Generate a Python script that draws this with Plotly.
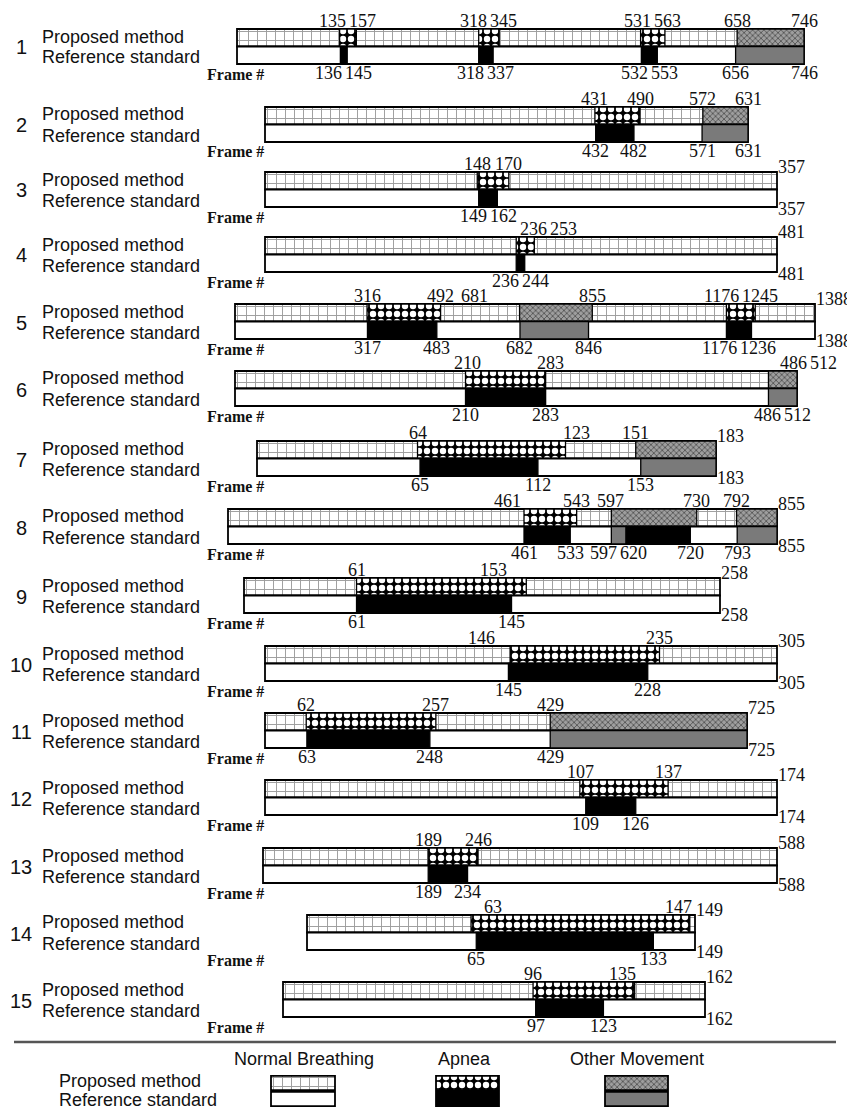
import plotly.graph_objects as go

W, H = 855, 1113          # target picture size
OFF = 8                   # default page margin around the plot div
FW, FH = W - OFF, H - OFF # figure size so that picture pixels map 1:1

# ---------------- data ----------------
ROW_IDS = list(range(1, 16))
TOTAL_FRAMES = [746, 631, 357, 481, 1388, 512, 183, 855, 258, 305, 725, 174, 588, 149, 162]

PROPOSED_APNEA = [
    [(135, 157), (318, 345), (531, 563)],
    [(431, 490)],
    [(148, 170)],
    [(236, 253)],
    [(316, 492), (1176, 1245)],
    [(210, 283)],
    [(64, 123)],
    [(461, 543)],
    [(61, 153)],
    [(146, 235)],
    [(62, 257)],
    [(107, 137)],
    [(189, 246)],
    [(63, 147)],
    [(96, 135)],
]
PROPOSED_OTHER = [
    [(658, 746)], [(572, 631)], [], [], [(681, 855)], [(486, 512)], [(151, 183)],
    [(597, 730), (792, 855)], [], [], [(429, 725)], [], [], [], [],
]
REFERENCE_APNEA = [
    [(136, 145), (318, 337), (532, 553)],
    [(432, 482)],
    [(149, 162)],
    [(236, 244)],
    [(317, 483), (1176, 1236)],
    [(210, 283)],
    [(65, 112)],
    [(461, 533), (620, 720)],
    [(61, 145)],
    [(145, 228)],
    [(63, 248)],
    [(109, 126)],
    [(189, 234)],
    [(65, 133)],
    [(97, 123)],
]
REFERENCE_OTHER = [
    [(656, 746)], [(571, 631)], [], [], [(682, 846)], [(486, 512)], [(153, 183)],
    [(597, 620), (793, 855)], [], [], [(429, 725)], [], [], [], [],
]

BAND_NAMES = ["Proposed method", "Reference standard"]
CLASS_NAMES = ["Normal Breathing", "Apnea", "Other Movement"]

# ---------------- layout (pixel geometry of each row's bar) ----------------
BAR_LEFT = [237, 265, 265, 265, 235, 235, 257, 228, 244, 265, 265, 265, 263, 307, 283]
BAR_RIGHT = [804, 748, 777, 777, 815, 797, 716, 777, 720, 777, 747, 777, 777, 695, 705]
BAR_TOP = [29, 107, 172, 237, 304, 371, 441, 509, 578, 646, 713, 780, 848, 915, 982]
BAR_H = 35
TOTAL_LABEL_CENTERED = {0, 1, 5}   # rows whose end frame label sits above/below the edge
TOP_LABEL_YSHIFT = -4
BOTTOM_LABEL_YSHIFT = 3

SERIF = "Liberation Serif, Times New Roman, serif"
SANS = "Liberation Sans, Arial, sans-serif"
NUM_FONT = dict(family=SERIF, size=18, color="#111")
TXT_FONT = dict(family=SANS, size=18, color="#111")
DIGIT_W = 9.0

STYLE = {
    ("P", "normal"): dict(color="white", pattern=dict(shape="+", fgcolor="#9c9c9c", bgcolor="white", size=9,
                                                       solidity=0.2, fillmode="replace", fgopacity=1)),
    ("P", "apnea"): dict(color="black", pattern=dict(shape=".", fgcolor="white", bgcolor="black", size=8,
                                                      solidity=0.5, fillmode="replace", fgopacity=1)),
    ("P", "other"): dict(color="#9a9a9a", pattern=dict(shape="x", fgcolor="#555555", bgcolor="#9e9e9e", size=4,
                                                        solidity=0.4, fillmode="replace", fgopacity=1)),
    ("R", "normal"): dict(color="white"),
    ("R", "apnea"): dict(color="black"),
    ("R", "other"): dict(color="#7a7a7a"),
}


def px2x(px):
    return (px - OFF) / FW


def px2y(py):
    return 1 - (py - OFF) / FH


fig = go.Figure()
annotations = []
layout_axes = {}


def sfx(k):
    return "" if k == 1 else str(k)


def add_axis(k, left, right, top, bottom, xmax):
    pad = 2
    u = xmax / (right - left)
    v = 2.0 / (bottom - top)
    layout_axes["xaxis" + sfx(k)] = dict(
        domain=[px2x(left - pad), px2x(right + pad)], range=[-pad * u, xmax + pad * u],
        visible=False, anchor="y" + sfx(k), fixedrange=True)
    layout_axes["yaxis" + sfx(k)] = dict(
        domain=[px2y(bottom + pad), px2y(top - pad)], range=[-0.5 - pad * v, 1.5 + pad * v],
        visible=False, anchor="x" + sfx(k), fixedrange=True)


def add_bars(k, band_y, segs, style, width=1.0, lw=1.3):
    if not segs:
        return
    marker = dict(color=style["color"], line=dict(color="black", width=lw))
    if "pattern" in style:
        marker["pattern"] = style["pattern"]
    fig.add_trace(go.Bar(
        orientation="h", y=[band_y] * len(segs), base=[s for s, e in segs],
        x=[e - s for s, e in segs], width=width, marker=marker,
        xaxis="x" + sfx(k), yaxis="y" + sfx(k), hoverinfo="skip", showlegend=False))


def spread(items, gap=3.0):
    for _ in range(300):
        items.sort(key=lambda d: d["c"])
        moved = False
        for a, b in zip(items, items[1:]):
            need = (a["w"] + b["w"]) / 2 + gap - (b["c"] - a["c"])
            if need > 0.01:
                if a["fixed"] and b["fixed"]:
                    continue
                moved = True
                if a["fixed"]:
                    b["c"] += need
                elif b["fixed"]:
                    a["c"] -= need
                else:
                    a["c"] -= need / 2
                    b["c"] += need / 2
        if not moved:
            break


def collide(c, w, others, gap=3.0):
    return any(abs(c - o["c"]) < (w + o["w"]) / 2 + gap for o in others)


def place_greedy(movables, obstacles):
    placed = list(obstacles)
    for m in sorted(movables, key=lambda d: d["c"]):
        if m["fixed"]:
            placed.append(m)
            continue
        base = m["c"]
        for d in range(0, 400):
            hit = False
            for s in ((d,) if d == 0 else (d, -d)):
                if not collide(base + s, m["w"], placed):
                    m["c"] = base + s
                    hit = True
                    break
            if hit:
                break
        placed.append(m)


top_items = [[] for _ in ROW_IDS]
bot_items = [[] for _ in ROW_IDS]

for i, rid in enumerate(ROW_IDS):
    k = i + 1
    left, right, top = BAR_LEFT[i], BAR_RIGHT[i], BAR_TOP[i]
    bottom = top + BAR_H
    total = TOTAL_FRAMES[i]
    add_axis(k, left, right, top, bottom, total)

    bands = [("P", 1, PROPOSED_APNEA[i], PROPOSED_OTHER[i]),
             ("R", 0, REFERENCE_APNEA[i], REFERENCE_OTHER[i])]
    for code, yb, apnea, other in bands:
        add_bars(k, yb, [(0, total)], STYLE[(code, "normal")], lw=1.8)
        add_bars(k, yb, other, STYLE[(code, "other")])
        add_bars(k, yb, apnea, STYLE[(code, "apnea")])

        grp = top_items[i] if yb == 1 else bot_items[i]
        vals = sorted({v for seg in apnea + other for v in seg if 0 < v < total})
        if i in TOTAL_LABEL_CENTERED:
            vals.append(total)
        for v in vals:
            c = left + v / total * (right - left)
            grp.append(dict(k=k, yb=yb, v=v, c0=c, c=c, w=DIGIT_W * len(str(v)), fixed=False, end=False))
        if i not in TOTAL_LABEL_CENTERED:
            tw = DIGIT_W * len(str(total))
            grp.append(dict(k=k, yb=yb, v=total, c0=None, c=right + tw / 2, w=tw, fixed=True, end=True))
        spread(grp)

    # row captions
    mid = top + BAR_H / 2
    annotations.append(dict(xref="paper", yref="paper", x=px2x(21), y=px2y(mid + 1),
                            text=str(rid), showarrow=False, xanchor="center", yanchor="middle",
                            font=dict(TXT_FONT, size=20)))
    annotations.append(dict(xref="paper", yref="paper", x=px2x(40), y=px2y(mid - 10),
                            text=BAND_NAMES[0], showarrow=False, xanchor="left", yanchor="middle",
                            font=TXT_FONT))
    annotations.append(dict(xref="paper", yref="paper", x=px2x(40), y=px2y(mid + 11),
                            text=BAND_NAMES[1], showarrow=False, xanchor="left", yanchor="middle",
                            font=TXT_FONT))
    annotations.append(dict(xref="paper", yref="paper", x=px2x(205), y=px2y(bottom + 10),
                            text="<b>Frame #</b>", showarrow=False, xanchor="left", yanchor="middle",
                            font=dict(NUM_FONT, size=16)))

# cross-row check: bottom labels of one row vs top labels of the next row
for i in range(len(ROW_IDS) - 1):
    gap_px = (BAR_TOP[i + 1] - 9) - (BAR_TOP[i] + BAR_H + 8)
    if gap_px < 20:
        obstacles = [it for it in bot_items[i] if not it["end"]]
        place_greedy(top_items[i + 1], obstacles)

for grp in top_items + bot_items:
    for it in grp:
        xa, ya = "x" + sfx(it["k"]), "y" + sfx(it["k"])
        if it["end"]:
            annotations.append(dict(
                xref=xa, yref=ya, x=TOTAL_FRAMES[it["k"] - 1], y=1.5 if it["yb"] == 1 else -0.5,
                xanchor="left", xshift=-1, yanchor="middle", yshift=5 if it["yb"] == 1 else -2,
                text=str(it["v"]), showarrow=False, font=NUM_FONT))
        else:
            annotations.append(dict(
                xref=xa, yref=ya, x=it["v"], y=1.5 if it["yb"] == 1 else -0.5,
                xshift=it["c"] - it["c0"], yanchor="bottom" if it["yb"] == 1 else "top",
                yshift=TOP_LABEL_YSHIFT if it["yb"] == 1 else BOTTOM_LABEL_YSHIFT,
                text=str(it["v"]), showarrow=False, font=NUM_FONT))

# ---------------- legend ----------------
LEG_LEFT = [271, 436, 605]
LEG_RIGHT = [335, 499, 668]
LEG_TOP, LEG_BOTTOM = 1075, 1107
LEG_HEAD_X = [304, 465, 637]
keys = ["normal", "apnea", "other"]
for j in range(3):
    k = 16 + j
    add_axis(k, LEG_LEFT[j], LEG_RIGHT[j], LEG_TOP, LEG_BOTTOM, 1.0)
    add_bars(k, 1, [(0, 1)], STYLE[("P", keys[j])], width=0.88, lw=1.8)
    add_bars(k, 0, [(0, 1)], STYLE[("R", keys[j])], width=0.88, lw=1.8)
    annotations.append(dict(xref="paper", yref="paper", x=px2x(LEG_HEAD_X[j]), y=px2y(1059),
                            text=CLASS_NAMES[j], showarrow=False, xanchor="center", yanchor="middle",
                            font=TXT_FONT))
annotations.append(dict(xref="paper", yref="paper", x=px2x(57), y=px2y(1081),
                        text=BAND_NAMES[0], showarrow=False, xanchor="left", yanchor="middle", font=TXT_FONT))
annotations.append(dict(xref="paper", yref="paper", x=px2x(57), y=px2y(1100),
                        text=BAND_NAMES[1], showarrow=False, xanchor="left", yanchor="middle", font=TXT_FONT))

shapes = [dict(type="line", xref="paper", yref="paper", x0=px2x(14), x1=px2x(836),
               y0=px2y(1042), y1=px2y(1042), line=dict(color="#555", width=2.5))]

fig.update_layout(
    width=FW, height=FH, margin=dict(l=0, r=0, t=0, b=0),
    paper_bgcolor="white", plot_bgcolor="rgba(0,0,0,0)",
    barmode="overlay", showlegend=False, annotations=annotations, shapes=shapes,
    **layout_axes)

fig.write_html("out.html")
